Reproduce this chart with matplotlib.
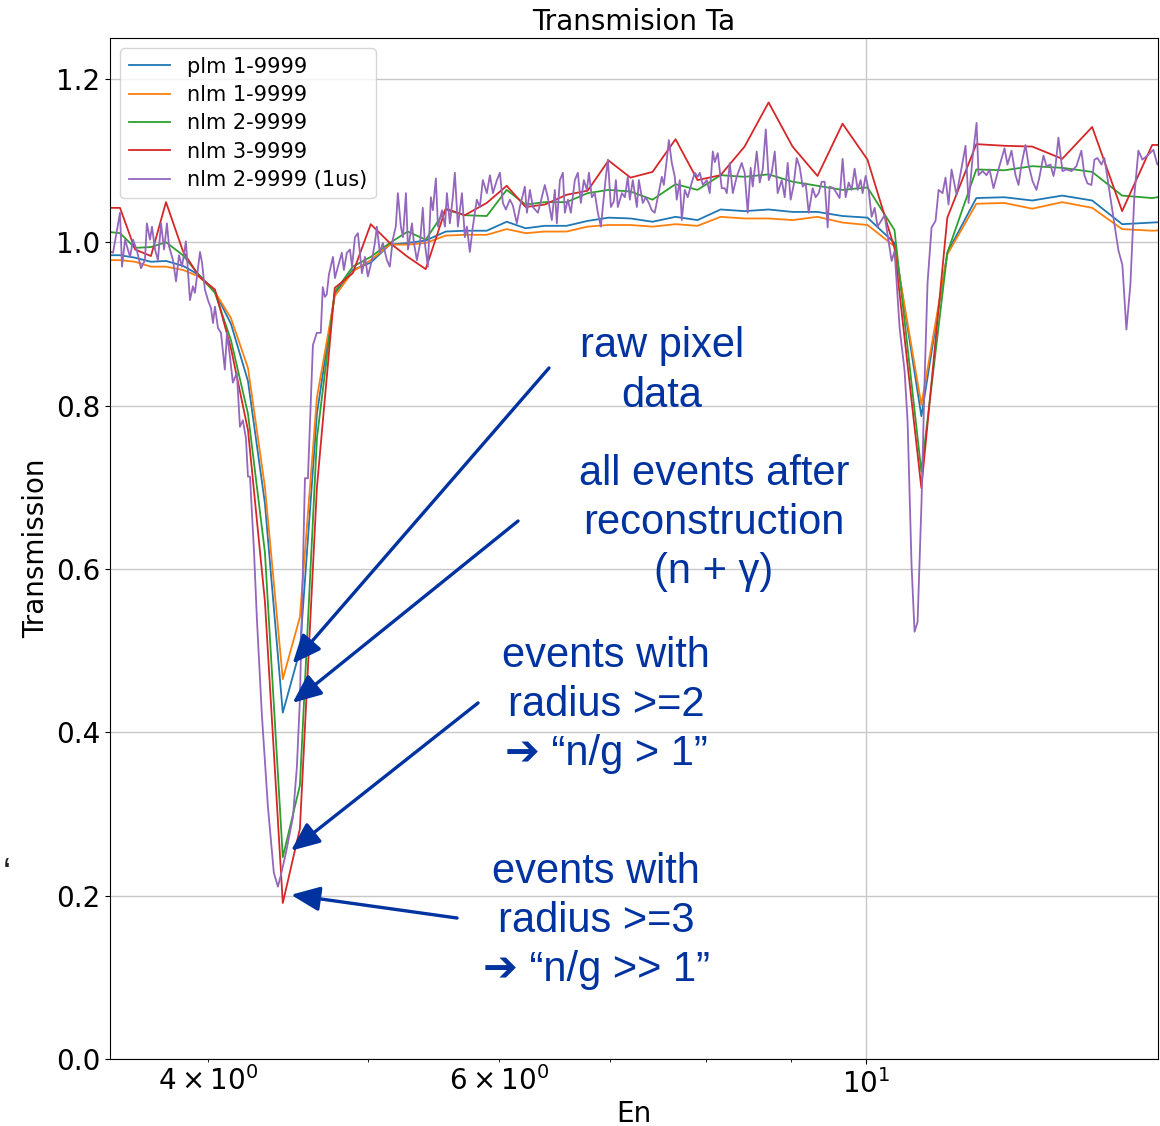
import matplotlib
matplotlib.use('Agg')
import matplotlib.pyplot as plt

# Energías de los bins gruesos (eV)
en_coarse = [3.466, 3.539, 3.614, 3.695, 3.773, 3.863, 3.950, 4.039, 4.130, 4.229,
             4.330, 4.439, 4.546, 4.655, 4.772, 4.893, 5.017, 5.152, 5.282, 5.416,
             5.569, 5.718, 5.896, 6.062, 6.224, 6.391, 6.589, 6.785, 6.985, 7.202,
             7.426, 7.668, 7.906, 8.164, 8.441, 8.728, 9.024, 9.343, 9.674, 10.016,
             10.399, 10.796, 11.193, 11.654, 12.116, 12.598, 13.134, 13.693, 14.276, 14.886,
             15.56]

plm_1 = [0.984, 0.984, 0.981, 0.976, 0.977, 0.971, 0.960, 0.939, 0.900, 0.830,
         0.680, 0.424, 0.500, 0.790, 0.937, 0.966, 0.975, 0.997, 0.999, 1.002,
         1.013, 1.014, 1.014, 1.025, 1.017, 1.020, 1.020, 1.026, 1.030, 1.029,
         1.025, 1.031, 1.027, 1.040, 1.038, 1.040, 1.037, 1.037, 1.032, 1.030,
         0.999, 0.787, 0.987, 1.054, 1.055, 1.051, 1.057, 1.051, 1.022, 1.024,
         1.026]

nlm_1 = [0.978, 0.978, 0.976, 0.970, 0.970, 0.966, 0.958, 0.939, 0.907, 0.846,
         0.700, 0.465, 0.541, 0.810, 0.934, 0.964, 0.978, 0.997, 0.997, 0.999,
         1.008, 1.009, 1.009, 1.016, 1.011, 1.013, 1.013, 1.019, 1.021, 1.021,
         1.019, 1.022, 1.020, 1.031, 1.029, 1.029, 1.027, 1.031, 1.024, 1.021,
         0.995, 0.801, 0.985, 1.047, 1.048, 1.041, 1.049, 1.042, 1.016, 1.014,
         1.016]

nlm_2 = [1.013, 1.011, 0.993, 0.994, 1.000, 0.984, 0.960, 0.938, 0.880, 0.790,
         0.620, 0.247, 0.335, 0.760, 0.939, 0.970, 0.982, 0.999, 1.013, 1.003,
         1.040, 1.033, 1.032, 1.064, 1.046, 1.049, 1.049, 1.060, 1.064, 1.062,
         1.052, 1.071, 1.064, 1.082, 1.080, 1.083, 1.074, 1.069, 1.064, 1.067,
         1.015, 0.719, 0.987, 1.089, 1.088, 1.093, 1.091, 1.086, 1.057, 1.054,
         1.060]

nlm_3 = [1.042, 1.042, 0.991, 0.983, 1.049, 0.989, 0.958, 0.942, 0.870, 0.770,
         0.560, 0.191, 0.282, 0.700, 0.944, 0.962, 1.022, 0.999, 0.982, 0.967,
         1.041, 1.033, 1.048, 1.069, 1.043, 1.046, 1.058, 1.063, 1.100, 1.079,
         1.086, 1.126, 1.076, 1.082, 1.117, 1.171, 1.117, 1.081, 1.145, 1.101,
         0.993, 0.699, 1.030, 1.120, 1.118, 1.117, 1.102, 1.141, 1.038, 1.119,
         1.119]

# Serie fina (1us)
en_fine = [3.480, 3.505, 3.539, 3.549, 3.564, 3.589, 3.604, 3.624, 3.644, 3.664,
           3.674, 3.690, 3.700, 3.716, 3.731, 3.747, 3.763, 3.778, 3.789, 3.810,
           3.826, 3.842, 3.858, 3.879, 3.901, 3.917, 3.928, 3.956, 3.967, 3.983,
           4.000, 4.017, 4.028, 4.039, 4.056, 4.073, 4.095, 4.107, 4.124, 4.141,
           4.164, 4.182, 4.199, 4.217, 4.229, 4.241, 4.265, 4.282, 4.312, 4.348,
           4.384, 4.409, 4.427, 4.458, 4.502, 4.527, 4.546, 4.565, 4.578, 4.597,
           4.629, 4.654, 4.680, 4.693, 4.706, 4.719, 4.733, 4.760, 4.773, 4.793,
           4.819, 4.833, 4.853, 4.874, 4.888, 4.908, 4.928, 4.956, 4.977, 4.997,
           5.025, 5.046, 5.060, 5.081, 5.102, 5.131, 5.152, 5.173, 5.195, 5.210,
           5.232, 5.247, 5.269, 5.284, 5.313, 5.328, 5.350, 5.372, 5.394, 5.409,
           5.432, 5.455, 5.470, 5.493, 5.509, 5.540, 5.563, 5.578, 5.601, 5.624,
           5.640, 5.664, 5.696, 5.719, 5.735, 5.759, 5.783, 5.815, 5.840, 5.864,
           5.897, 5.922, 5.947, 5.980, 6.005, 6.030, 6.055, 6.089, 6.114, 6.148,
           6.174, 6.217, 6.235, 6.261, 6.287, 6.331, 6.366, 6.392, 6.419, 6.455,
           6.482, 6.500, 6.528, 6.555, 6.573, 6.601, 6.628, 6.665, 6.693, 6.721,
           6.749, 6.778, 6.797, 6.825, 6.853, 6.882, 6.911, 6.930, 6.959, 6.979,
           7.008, 7.037, 7.057, 7.076, 7.116, 7.146, 7.175, 7.195, 7.225, 7.266,
           7.286, 7.326, 7.357, 7.388, 7.419, 7.449, 7.481, 7.523, 7.544, 7.575,
           7.597, 7.628, 7.660, 7.681, 7.713, 7.735, 7.767, 7.799, 7.843, 7.876,
           7.909, 7.931, 7.964, 8.009, 8.042, 8.076, 8.098, 8.132, 8.177, 8.212,
           8.235, 8.269, 8.304, 8.349, 8.407, 8.442, 8.478, 8.513, 8.537, 8.585,
           8.621, 8.657, 8.694, 8.730, 8.766, 8.803, 8.839, 8.889, 8.926, 8.963,
           9.000, 9.038, 9.076, 9.114, 9.152, 9.190, 9.229, 9.280, 9.319, 9.358,
           9.397, 9.436, 9.476, 9.502, 9.555, 9.595, 9.635, 9.675, 9.716, 9.757,
           9.797, 9.838, 9.880, 9.921, 9.948, 9.990, 10.032, 10.074, 10.116, 10.158,
           10.214, 10.257, 10.300, 10.358, 10.401, 10.474, 10.547, 10.591, 10.650, 10.694,
           10.739, 10.799, 10.844, 10.889, 10.950, 11.011, 11.058, 11.119, 11.165, 11.212,
           11.259, 11.338, 11.417, 11.480, 11.529, 11.593, 11.658, 11.690, 11.755, 11.821,
           11.870, 11.936, 12.019, 12.120, 12.171, 12.239, 12.307, 12.359, 12.410, 12.479,
           12.532, 12.601, 12.671, 12.725, 12.796, 12.850, 12.921, 12.975, 13.011, 13.065,
           13.138, 13.212, 13.304, 13.396, 13.489, 13.546, 13.603, 13.679, 13.736, 13.794,
           13.870, 13.928, 13.986, 14.084, 14.202, 14.281, 14.361, 14.441, 14.522, 14.603,
           14.684, 14.787, 14.910, 14.993, 15.077]

nlm_2_1us = [0.990, 0.987, 1.036, 0.970, 1.003, 0.982, 1.003, 0.989, 0.968, 0.978,
             1.023, 1.003, 1.019, 0.991, 0.978, 1.023, 0.991, 1.023, 0.995, 0.978,
             0.952, 0.984, 0.970, 1.001, 0.929, 0.946, 0.938, 0.988, 0.975, 0.942,
             0.929, 0.919, 0.901, 0.921, 0.895, 0.889, 0.844, 0.889, 0.860, 0.828,
             0.840, 0.774, 0.782, 0.760, 0.713, 0.713, 0.620, 0.538, 0.420, 0.309,
             0.228, 0.211, 0.225, 0.252, 0.296, 0.358, 0.440, 0.600, 0.711, 0.711,
             0.874, 0.889, 0.889, 0.945, 0.933, 0.936, 0.960, 0.982, 0.956, 0.970,
             0.987, 0.966, 0.987, 0.991, 0.970, 1.006, 1.011, 0.962, 0.982, 0.958,
             0.978, 0.999, 1.019, 0.987, 0.999, 0.978, 0.970, 1.003, 1.019, 1.060,
             1.019, 1.006, 1.060, 0.991, 1.023, 0.999, 0.978, 0.997, 1.042, 0.999,
             0.970, 1.055, 1.039, 1.078, 1.019, 1.039, 1.019, 1.060, 1.023, 1.055,
             1.085, 1.019, 1.060, 1.006, 1.019, 0.988, 1.019, 1.052, 1.043, 1.076,
             1.060, 1.082, 1.060, 1.076, 1.085, 1.048, 1.040, 1.052, 1.045, 1.023,
             1.043, 1.068, 1.036, 1.064, 1.043, 1.036, 1.055, 1.070, 1.055, 1.027,
             1.064, 1.023, 1.076, 1.085, 1.036, 1.052, 1.036, 1.076, 1.085, 1.048,
             1.076, 1.064, 1.085, 1.055, 1.060, 1.036, 1.019, 1.043, 1.080, 1.101,
             1.043, 1.050, 1.076, 1.043, 1.060, 1.055, 1.080, 1.052, 1.076, 1.043,
             1.076, 1.048, 1.055, 1.048, 1.039, 1.036, 1.055, 1.080, 1.070, 1.101,
             1.125, 1.097, 1.080, 1.052, 1.076, 1.027, 1.064, 1.055, 1.073, 1.085,
             1.080, 1.085, 1.070, 1.076, 1.060, 1.111, 1.098, 1.109, 1.066, 1.066,
             1.060, 1.097, 1.060, 1.080, 1.097, 1.085, 1.036, 1.091, 1.068, 1.111,
             1.073, 1.089, 1.138, 1.076, 1.085, 1.111, 1.060, 1.076, 1.055, 1.097,
             1.052, 1.070, 1.103, 1.092, 1.068, 1.072, 1.036, 1.066, 1.055, 1.060,
             1.074, 1.074, 1.018, 1.068, 1.066, 1.060, 1.054, 1.102, 1.055, 1.073,
             1.064, 1.090, 1.064, 1.076, 1.060, 1.081, 1.064, 1.031, 1.042, 1.019,
             1.027, 1.033, 1.009, 0.977, 0.989, 0.895, 0.842, 0.780, 0.603, 0.523,
             0.535, 0.684, 0.830, 0.950, 1.018, 1.026, 1.064, 1.060, 1.079, 1.046,
             1.089, 1.058, 1.091, 1.118, 1.048, 1.103, 1.146, 1.082, 1.087, 1.082,
             1.089, 1.066, 1.089, 1.115, 1.095, 1.112, 1.082, 1.070, 1.095, 1.119,
             1.095, 1.075, 1.064, 1.080, 1.106, 1.093, 1.095, 1.081, 1.093, 1.128,
             1.087, 1.089, 1.087, 1.093, 1.112, 1.082, 1.072, 1.070, 1.101, 1.103,
             1.095, 1.103, 1.079, 1.038, 0.990, 0.972, 0.893, 0.948, 1.058, 1.112,
             1.101, 1.106, 1.113, 1.095, 1.100]

labels = ['plm 1-9999', 'nlm 1-9999', 'nlm 2-9999', 'nlm 3-9999', 'nlm 2-9999 (1us)']

# Notas sobre la diapositiva
notes = ['raw pixel\ndata',
         'all events after\nreconstruction\n(n + \u03b3)',
         'events with\nradius >=2\n\u2794 \u201cn/g > 1\u201d',
         'events with\nradius >=3\n\u2794 \u201cn/g >> 1\u201d']
note_xy = [(0.5707, 0.6705), (0.6155, 0.5355), (0.5224, 0.3739), (0.5138, 0.1821)]
arrow_tail = [(0.4733, 0.6732), (0.4466, 0.5373), (0.4121, 0.3757), (0.3940, 0.1847)]
arrow_tip = [(4.50, 0.484), (4.50, 0.436), (4.49, 0.255), (4.49, 0.201)]
note_color = '#0033a0'


def main():
    fig = plt.figure(figsize=(11.6, 11.26), dpi=100)
    ax = fig.add_axes([0.0948, 0.0595, 0.9032, 0.9068])

    lw = 1.3
    ax.plot(en_coarse, plm_1, color='tab:blue', lw=lw, label=labels[0])
    ax.plot(en_coarse, nlm_1, color='tab:orange', lw=lw, label=labels[1])
    ax.plot(en_coarse, nlm_2, color='tab:green', lw=lw, label=labels[2])
    ax.plot(en_coarse, nlm_3, color='tab:red', lw=lw, label=labels[3])
    ax.plot(en_fine, nlm_2_1us, color='tab:purple', lw=lw, label=labels[4])

    ax.set_xscale('log')
    ax.set_xlim(3.49, 15.0)
    ax.set_ylim(0, 1.25)
    ax.set_yticks([0.0, 0.2, 0.4, 0.6, 0.8, 1.0, 1.2])
    ax.grid(True, color='#c8c8c8', lw=1.0)
    ax.tick_params(axis='both', which='both', labelsize=20)
    ax.set_xlabel('En', fontsize=20, labelpad=1)
    ax.set_ylabel('Transmission', fontsize=20)
    ax.set_title('Transmision Ta', fontsize=20, pad=6)
    ax.legend(loc='upper left', fontsize=15, labelspacing=0.4)

    fam = ['Liberation Sans', 'DejaVu Sans']
    for txt, (x, y) in zip(notes, note_xy):
        fig.text(x, y, txt, ha='center', va='center', multialignment='center',
                 fontsize=30, color=note_color, family=fam, linespacing=1.3)

    for (tx, ty), (ex, ey) in zip(arrow_tail, arrow_tip):
        ax.annotate('', xy=(ex, ey), xycoords='data',
                    xytext=(tx, ty), textcoords='figure fraction',
                    arrowprops=dict(arrowstyle='-|>,head_length=0.7,head_width=0.3',
                                    color=note_color, lw=2.4, mutation_scale=25,
                                    shrinkA=0, shrinkB=0))

    fig.text(0.002, 0.215, '\u2018', fontsize=26, color='#222222', family=fam)

    fig.savefig('out.png', dpi=100)
    plt.close(fig)


if __name__ == '__main__':
    main()
